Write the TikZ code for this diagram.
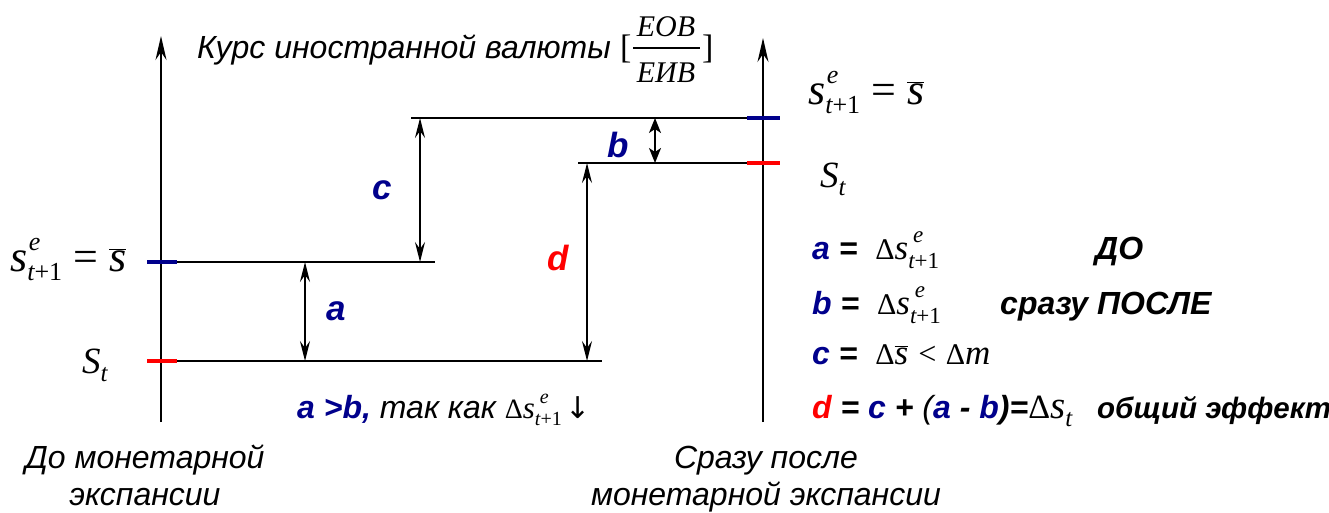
\documentclass[tikz,border=0pt]{standalone}
\usepackage[no-math]{fontspec}
\setmainfont{Liberation Sans}
\newfontfamily\tms{Liberation Serif}
\newfontfamily\dvs{DejaVu Sans}
\usetikzlibrary{arrows.meta}
\definecolor{dblue}{RGB}{0,0,140}
\definecolor{dred}{RGB}{255,0,0}
\newcommand{\fs}[1]{\fontsize{#1}{#1}\selectfont}
\newcommand{\tmi}{\tms\mdseries\itshape}
% s^e_{t+1}: #1 base size, #2 script size, #3 raise, #4 lower
\newcommand{\sse}[4]{{\fs{#1}\tmi s}\makebox[0pt][l]{\hspace{0.15em}\raisebox{#3}{\fs{#2}\tmi e}}\raisebox{-#4}{\fs{#2}\tmi t\upshape+1}}
\newcommand{\sbr}[1]{{\fs{#1}\mdseries\upshape$\overline{\mbox{\tmi s}}$}}
\newcommand{\Dl}[1]{{\fs{#1}\tms\mdseries\upshape Δ}}
\tikzset{
  ln/.style={line width=1.8pt},
  axisline/.style={line width=1.8pt,-{Stealth[length=24pt,width=11pt,inset=8pt]}},
  dimline/.style={line width=1.6pt,{Stealth[length=20pt,width=10pt,inset=7pt]}-{Stealth[length=20pt,width=10pt,inset=7pt]}},
  dimshort/.style={line width=1.6pt,{Stealth[length=15pt,width=12pt,inset=4pt]}-{Stealth[length=15pt,width=12pt,inset=4pt]}},
  tickb/.style={line width=4pt,dblue},
  tickr/.style={line width=4pt,dred},
  txt/.style={inner sep=0pt,anchor=base west,font=\fs{32}\itshape},
  btxt/.style={inner sep=0pt,anchor=base west,font=\fs{32}\bfseries\itshape},
  ctxt/.style={inner sep=0pt,anchor=base,font=\fs{32}\itshape},
  lab/.style={inner sep=0pt,font=\fs{35}\bfseries\itshape},
  mth/.style={inner sep=0pt,anchor=base west},
}
\begin{document}
\begin{tikzpicture}[x=1pt,y=-1pt]
\useasboundingbox (0,0) rectangle (1329,512);
% axes
\coordinate (LA0) at (161,422); \coordinate (LA1) at (161,36);
\coordinate (RA0) at (763,422); \coordinate (RA1) at (763,38);
\draw[axisline] (LA0) -- (LA1);
\draw[axisline] (RA0) -- (RA1);
% level lines
\coordinate (L1a) at (177,262); \coordinate (L1b) at (435,262);
\coordinate (L2a) at (177,361); \coordinate (L2b) at (602,361);
\coordinate (R1a) at (411,118); \coordinate (R1b) at (747,118);
\coordinate (R2a) at (578,163); \coordinate (R2b) at (747,163);
\draw[ln] (L1a) -- (L1b);
\draw[ln] (L2a) -- (L2b);
\draw[ln] (R1a) -- (R1b);
\draw[ln] (R2a) -- (R2b);
% ticks
\coordinate (TL1) at (147,262); \coordinate (TL2) at (147,361);
\coordinate (TR1) at (780,118); \coordinate (TR2) at (780,163);
\draw[tickb] (TL1) -- (L1a);
\draw[tickr] (TL2) -- (L2a);
\draw[tickb] (R1b) -- (TR1);
\draw[tickr] (R2b) -- (TR2);
% dimension arrows
\coordinate (Aa) at (305,262); \coordinate (Ab) at (305,361);
\coordinate (Ca) at (420,118); \coordinate (Cb) at (420,262);
\coordinate (Da) at (587,163); \coordinate (Db) at (587,361);
\coordinate (Ba) at (655,118); \coordinate (Bb) at (655,163);
\draw[dimline] (Aa) -- (Ab);
\draw[dimline] (Ca) -- (Cb);
\draw[dimline] (Da) -- (Db);
\draw[dimshort] (Ba) -- (Bb);
% dimension labels
\node[lab,dblue] (la) at (336,311) {a};
\node[lab,dblue] (lc) at (382,190) {c};
\node[lab,dred] (ld) at (558,258) {d};
\node[lab,dblue] (lb) at (618,145) {b};
% title
\node[txt] (title) at (197,58) {Курс иностранной валюты};
\node[mth,font=\fs{34}\tms] (lbr) at (620,58) {[};
\node[mth,font=\fs{34}\tms] (rbr) at (702,58) {]};
\node[inner sep=0pt,anchor=base,font=\fs{30}\tmi] (num) at (666,36) {EOB};
\node[inner sep=0pt,anchor=base,font=\fs{30}\tmi] (den) at (666,82) {EИВ};
\coordinate (barA) at (633,48); \coordinate (barB) at (700,48);
\draw[line width=1.3pt] (barA) -- (barB);
% left axis labels
\node[mth] (sl) at (10,271) {\sse{44}{26}{21pt}{9pt}{\fs{44}\tms\ =\ }\sbr{44}};
\node[mth] (stl) at (82,373) {{\fs{37}\tmi S}\raisebox{-8pt}{\fs{25}\tmi t}};
% right axis labels
\node[mth] (sr) at (808,104) {\sse{44}{26}{21pt}{9pt}{\fs{44}\tms\ =\ }\sbr{44}};
\node[mth] (str) at (820,187) {{\fs{37}\tmi S}\raisebox{-8pt}{\fs{25}\tmi t}};
% note under
\node[btxt] (note) at (297,418) {\textcolor{dblue}{a >b,} {\mdseries так как} \Dl{28}\sse{31}{20}{15pt}{7pt}\hspace{4pt}{\fs{30}\dvs\mdseries\upshape ↓}};
% captions
\node[ctxt] (cap1) at (145,468) {До монетарной};
\node[ctxt] (cap2) at (145,505) {экспансии};
\node[ctxt] (cap3) at (766,468) {Сразу после};
\node[ctxt] (cap4) at (766,505) {монетарной экспансии};
% right block
\node[btxt] (ra) at (812,259) {\textcolor{dblue}{a} = \ \Dl{30}\sse{35}{23}{17pt}{9pt}};
\node[btxt] (rdo) at (1095,259) {ДО};
\node[btxt] (rb) at (812,314) {\textcolor{dblue}{b} = \ \Dl{30}\sse{35}{23}{17pt}{9pt}};
\node[btxt] (rpo) at (1000,314) {сразу ПОСЛЕ};
\node[btxt] (rc) at (812,364) {\textcolor{dblue}{c} = \ \Dl{30}\sbr{35}{\fs{32}\tms\mdseries\ <\ }\Dl{30}{\fs{35}\tmi m}};
\node[btxt] (rd) at (812,418) {\textcolor{dred}{d} = \textcolor{dblue}{c} + {\mdseries(}\textcolor{dblue}{a} - \textcolor{dblue}{b}){=}\Dl{34}{\fs{39}\tmi s}\raisebox{-8pt}{\fs{25}\tmi t}};
\node[btxt,font=\fs{29.5}\bfseries\itshape] (eff) at (1097,418) {общий эффект};
\end{tikzpicture}
\end{document}
